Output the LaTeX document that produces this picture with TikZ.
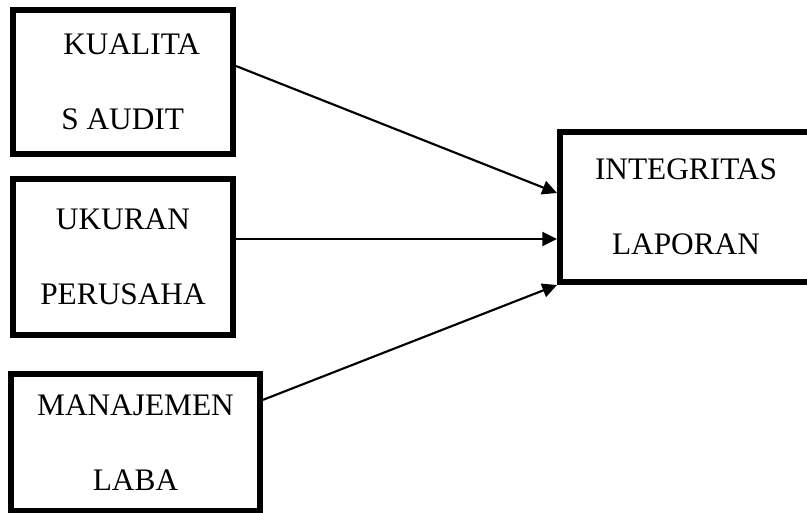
\documentclass[tikz,border=0pt]{standalone}
\usepackage{fontspec}
\setmainfont{Liberation Serif}
\usetikzlibrary{arrows.meta, positioning}
\tikzset{
  varbox/.style = {draw, line width=4.5pt, align=center, inner sep=0pt,
                   font=\fontsize{23.5}{56}\selectfont},
  link/.style   = {-{Triangle[length=11pt, width=10.5pt]}, line width=1.6pt},
}

\begin{document}
\begin{tikzpicture}[x=0.75pt, y=-0.75pt]
  \useasboundingbox (0,0) rectangle (807,512);
  \node[varbox, minimum width=165pt, minimum height=108pt, align=left] (kualitas) at (123,82) {\hspace*{13pt}KUALITA\\\hspace*{11.5pt}S AUDIT};
  \node[varbox, minimum width=165pt, minimum height=117pt] (ukuran) at (123,257) {UKURAN\\PERUSAHA};
  \node[varbox, minimum width=186.75pt, minimum height=102.75pt] (manajemen) at (135.5,442.5) {MANAJEMEN\\LABA};
  \node[varbox, minimum width=189pt, minimum height=112.5pt] (integritas) at (686,207) {INTEGRITAS\\LAPORAN};
  \draw[link] ([yshift=12pt]kualitas.east) -- ([yshift=10.5pt]integritas.west);
  \draw[link] ([yshift=13.5pt]ukuran.east) -- ([yshift=-24pt]integritas.west);
  \draw[link] ([yshift=32pt]manajemen.east) -- (integritas.south west);
\end{tikzpicture}
\end{document}
